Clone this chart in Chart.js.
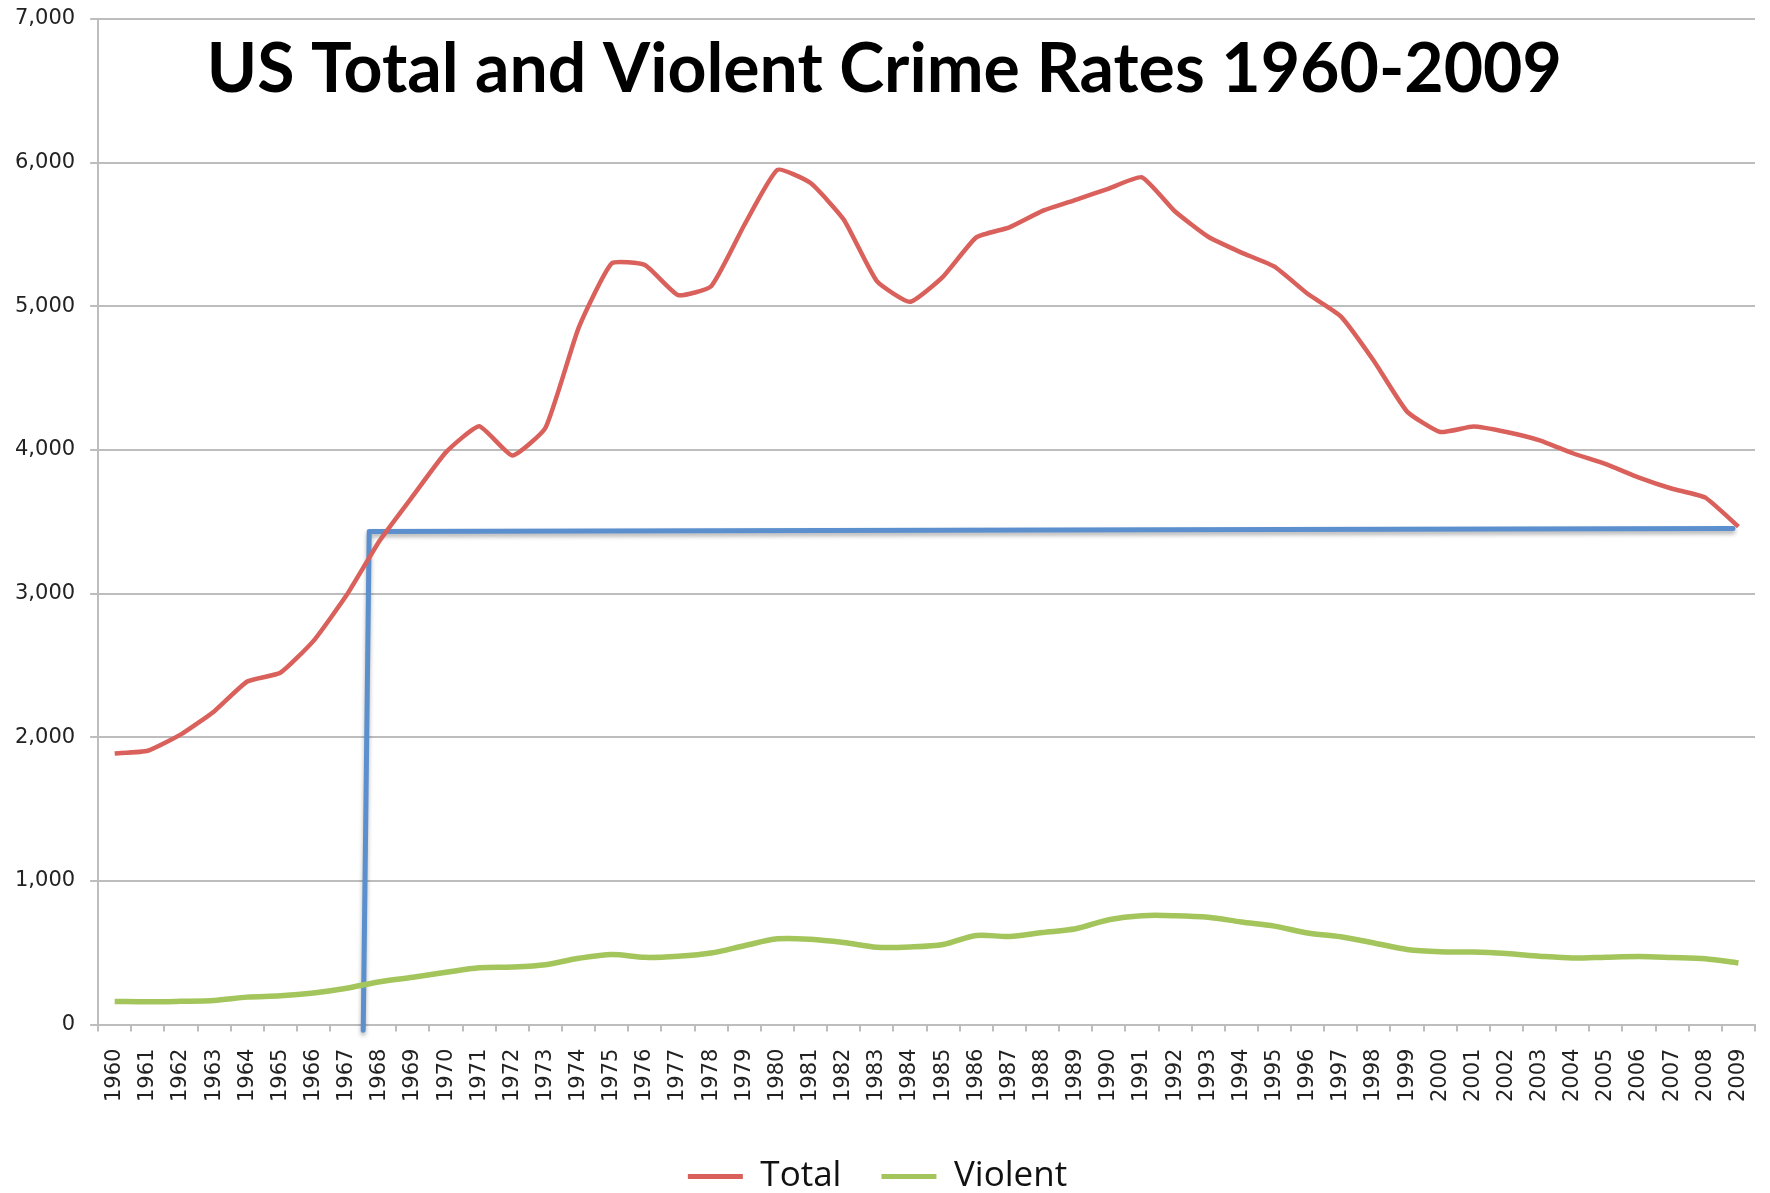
<!DOCTYPE html>
<html>
<head>
<meta charset="utf-8">
<script src="https://cdn.jsdelivr.net/npm/chart.js@4.4.1/dist/chart.umd.min.js"></script>
<style>
  html, body { margin: 0; padding: 0; background: #fff; }
  #wrap { width: 1770px; height: 1193px; }
</style>
</head>
<body>
<div id="wrap"><canvas id="myChart"></canvas></div>
<script>
// DATA
const years = [];
for (let y = 1960; y <= 2009; y++) years.push(String(y));

// crime rate per 100,000
const totalRates = [
  1887, 1906, 2020, 2180, 2388, 2449, 2671, 2990, 3370, 3680,
  3985, 4165, 3961, 4154, 4850, 5299, 5287, 5078, 5140, 5566,
  5950, 5858, 5604, 5175, 5031, 5207, 5480, 5550, 5664, 5741,
  5820, 5898, 5660, 5484, 5374, 5276, 5087, 4930, 4619, 4267,
  4125, 4163, 4125, 4067, 3977, 3901, 3808, 3730, 3668, 3466
];
const violentRates = [
  161, 158, 162, 168, 191, 200, 220, 253, 298, 329,
  364, 396, 401, 417, 461, 488, 468, 476, 498, 549,
  597, 594, 571, 538, 540, 557, 620, 613, 641, 667,
  730, 758, 758, 747, 714, 685, 637, 611, 568, 523,
  507, 505, 494, 476, 463, 469, 474, 467, 458, 429
];

// hand drawn blue marker (x in category index units)
const markerX = [7.5, 7.68, 48.84];
const markerY = [-40, 3433, 3454];

const titleText = 'US Total and Violent Crime Rates 1960-2009';
const yTicks = [0, 1000, 2000, 3000, 4000, 5000, 6000, 7000];

window.addEventListener("DOMContentLoaded", () => {

  const markerData = markerX.map((x, i) => ({ x: x, y: markerY[i] }));

  // title drawn inside the plot area
  const insideTitle = {
    id: 'insideTitle',
    afterDraw(chart) {
      const { ctx, chartArea: { top, left, width } } = chart;
      ctx.save();
      let size = 100;
      ctx.font = `bold ${size}px Lato`;
      const w = ctx.measureText(titleText).width;
      size = size * (width * 0.818) / w;
      ctx.font = `bold ${size}px Lato`;
      ctx.fillStyle = '#000';
      ctx.textAlign = 'center';
      ctx.textBaseline = 'alphabetic';
      ctx.fillText(titleText, left + width * 0.4745, top + 73);
      ctx.restore();
    }
  };

  // shadow under the blue line
  const markerShadow = {
    id: 'markerShadow',
    beforeDatasetDraw(chart, args) {
      if (args.index !== 2) return;
      const ctx = chart.ctx;
      ctx.save();
      ctx.shadowColor = 'rgba(0, 0, 0, 0.3)';
      ctx.shadowBlur = 4;
      ctx.shadowOffsetY = 3;
    },
    afterDatasetDraw(chart, args) {
      if (args.index !== 2) return;
      chart.ctx.restore();
    }
  };

  const data = {
    labels: years,
    datasets: [
      {
        label: 'Total',
        data: totalRates,
        borderColor: '#d9605b',
        backgroundColor: '#d9605b',
        borderWidth: 4.5,
        pointRadius: 0,
        tension: 0.15,
        order: 1
      },
      {
        label: 'Violent',
        data: violentRates,
        borderColor: '#a3c55c',
        backgroundColor: '#a3c55c',
        borderWidth: 5.5,
        pointRadius: 0,
        tension: 0.3,
        order: 2
      },
      {
        label: 'marker',
        data: markerData,
        xAxisID: 'x2',
        borderColor: '#5b8fcd',
        backgroundColor: '#5b8fcd',
        borderWidth: 5,
        pointRadius: 0,
        tension: 0,
        borderJoinStyle: 'round',
        borderCapStyle: 'round',
        clip: false,
        order: 3
      }
    ]
  };

  const config = {
    type: 'line',
    data,
    options: {
      responsive: true,
      maintainAspectRatio: false,
      animation: false,
      layout: {
        padding: { top: 19, left: 0, right: 15, bottom: -11 }
      },
      scales: {
        x: {
          type: 'category',
          offset: true,
          grid: {
            offset: true,
            drawOnChartArea: false,
            drawTicks: true,
            tickLength: 7,
            color: '#bdbdbd',
            lineWidth: 2
          },
          border: { color: '#bdbdbd', width: 2 },
          ticks: {
            autoSkip: false,
            maxRotation: 90,
            minRotation: 90,
            padding: 17,
            color: '#222',
            font: { family: 'DejaVu Sans', size: 21 }
          },
          afterFit: (axis) => {
            axis.paddingLeft = 0;
            axis.paddingRight = 0;
          }
        },
        x2: {
          type: 'linear',
          display: false,
          min: -0.5,
          max: 49.5
        },
        y: {
          min: 0,
          max: 7000,
          afterBuildTicks: (axis) => {
            axis.ticks = yTicks.map(v => ({ value: v }));
          },
          grid: {
            color: '#bdbdbd',
            lineWidth: 2,
            drawTicks: true,
            tickLength: 8
          },
          border: { color: '#bdbdbd', width: 2 },
          ticks: {
            padding: 15,
            color: '#222',
            font: { family: 'DejaVu Sans', size: 21 }
          },
          afterFit: (axis) => {
            axis.paddingTop = 0;
            axis.paddingBottom = 0;
          }
        }
      },
      plugins: {
        legend: {
          position: 'bottom',
          labels: {
            boxWidth: 55,
            boxHeight: 5,
            padding: 40,
            color: '#111',
            font: { family: 'Open Sans', size: 35 },
            filter: (item) => item.datasetIndex !== 2,
            generateLabels: (chart) =>
              Chart.defaults.plugins.legend.labels.generateLabels(chart).map(l => ({ ...l, lineWidth: 0 }))
          }
        },
        tooltip: { enabled: false }
      }
    },
    plugins: [insideTitle, markerShadow]
  };

  const myChart = new Chart(document.getElementById('myChart'), config);
});
</script>
</body>
</html>
